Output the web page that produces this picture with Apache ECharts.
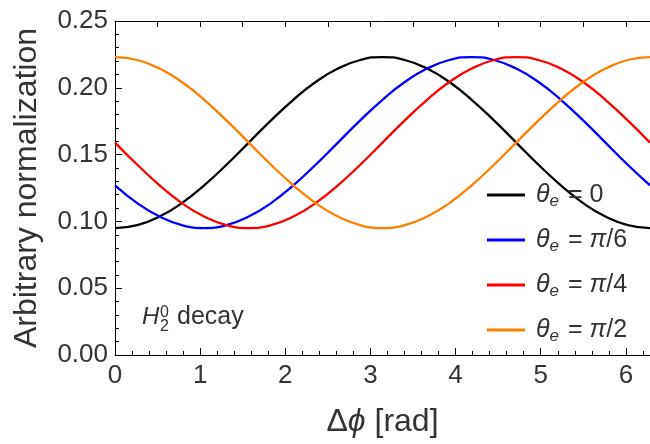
<!DOCTYPE html>
<html><head><meta charset="utf-8">
<script src="https://cdn.jsdelivr.net/npm/echarts@6/dist/echarts.min.js"></script>
<style>html,body{margin:0;padding:0;background:#fff}#c{width:650px;height:444px}</style>
</head><body><div id="c"></div><script>
// Δφ sample positions (rad)
const xValues = [0, 0.2618, 0.5236, 0.7854, 1.0472, 1.309, 1.5708, 1.8326, 2.0944, 2.3562, 2.618, 2.8798, 3.1416, 3.4034, 3.6652, 3.927, 4.1888, 4.4506, 4.7124, 4.9742, 5.236, 5.4978, 5.7596, 6.0214, 6.2832];
// values
const theta0   = [0.095, 0.0972, 0.1036, 0.1137, 0.127, 0.1424, 0.159, 0.1756, 0.191, 0.2043, 0.2144, 0.2208, 0.223, 0.2208, 0.2144, 0.2043, 0.191, 0.1756, 0.159, 0.1424, 0.127, 0.1137, 0.1036, 0.0972, 0.095];
const thetaPi6 = [0.127, 0.1137, 0.1036, 0.0972, 0.095, 0.0972, 0.1036, 0.1137, 0.127, 0.1424, 0.159, 0.1756, 0.191, 0.2043, 0.2144, 0.2208, 0.223, 0.2208, 0.2144, 0.2043, 0.191, 0.1756, 0.159, 0.1424, 0.127];
const thetaPi4 = [0.159, 0.1424, 0.127, 0.1137, 0.1036, 0.0972, 0.095, 0.0972, 0.1036, 0.1137, 0.127, 0.1424, 0.159, 0.1756, 0.191, 0.2043, 0.2144, 0.2208, 0.223, 0.2208, 0.2144, 0.2043, 0.191, 0.1756, 0.159];
const thetaPi2 = [0.223, 0.2208, 0.2144, 0.2043, 0.191, 0.1756, 0.159, 0.1424, 0.127, 0.1137, 0.1036, 0.0972, 0.095, 0.0972, 0.1036, 0.1137, 0.127, 0.1424, 0.159, 0.1756, 0.191, 0.2043, 0.2144, 0.2208, 0.223];
const xTickLabels = [0, 1, 2, 3, 4, 5, 6];
const yTickLabels = ['0.00', '0.05', '0.10', '0.15', '0.20', '0.25'];
const seriesNames = ['θe = 0', 'θe = π/6', 'θe = π/4', 'θe = π/2'];
const legendRich = ['{i|θ}{s|e}{n| = 0}', '{i|θ}{s|e}{n| = }{i|π}{n|/6}', '{i|θ}{s|e}{n| = }{i|π}{n|/4}', '{i|θ}{s|e}{n| = }{i|π}{n|/2}'];
const colors = ['#000000', '#0000ff', '#ff0000', '#ff8000'];
const allValues = [theta0, thetaPi6, thetaPi4, thetaPi2];

const FONT = '"Liberation Sans", Arial, sans-serif';
const TXT = '#333333';
const XMAX = 6.2832;

const chart = echarts.init(document.getElementById('c'), null, {renderer: 'canvas'});
const series = allValues.map((vals, k) => ({
  name: seriesNames[k],
  type: 'line',
  xAxisIndex: 0,
  yAxisIndex: 0,
  smooth: true,
  symbol: 'none',
  lineStyle: {color: colors[k], width: 2.3},
  itemStyle: {color: colors[k]},
  data: xValues.map((x, i) => [x, vals[i]])
}));

chart.setOption({
  animation: false,
  backgroundColor: '#ffffff',
  textStyle: {fontFamily: FONT},
  grid: {left: 115, right: -5, top: 21, bottom: 89},
  legend: {
    orient: 'vertical',
    left: 482, top: 175,
    itemWidth: 38, itemHeight: 3, itemGap: 15,
    icon: 'rect',
    data: seriesNames,
    formatter: name => legendRich[seriesNames.indexOf(name)],
    textStyle: {
      color: TXT, fontFamily: FONT, fontSize: 25, lineHeight: 30, padding: [0, 0, 0, 6],
      rich: {
        i: {fontStyle: 'italic', fontSize: 25, color: TXT, fontFamily: FONT},
        s: {fontStyle: 'italic', fontSize: 17, color: TXT, fontFamily: FONT, verticalAlign: 'bottom', lineHeight: 30, padding: [0, 2, 0, 0]},
        n: {fontSize: 25, color: TXT, fontFamily: FONT}
      }
    }
  },
  xAxis: [{
    type: 'value', position: 'bottom', min: 0, max: XMAX, interval: 1,
    name: '{u|Δ}{i|ϕ}{u| [rad]}', nameLocation: 'middle', nameGap: 51,
    nameTextStyle: {
      rich: {
        u: {fontSize: 32, color: TXT, fontFamily: FONT},
        i: {fontSize: 32, color: TXT, fontFamily: FONT, fontStyle: 'italic'}
      }
    },
    axisLine: {show: true, onZero: false, lineStyle: {color: '#000', width: 1}},
    axisTick: {show: true, inside: true, length: 7, lineStyle: {color: '#000'}},
    minorTick: {show: true, splitNumber: 5, length: 4, lineStyle: {color: '#000'}},
    axisLabel: {
      show: true, margin: 8, fontSize: 26, color: TXT, fontFamily: FONT, showMaxLabel: false,
      formatter: v => (xTickLabels.indexOf(v) >= 0 ? String(v) : '')
    },
    splitLine: {show: false}
  }, {
    type: 'value', position: 'top', min: 0, max: XMAX, interval: 0.5,
    axisLine: {show: true, onZero: false, lineStyle: {color: '#000', width: 1}},
    axisTick: {show: true, inside: true, length: 6, lineStyle: {color: '#000'}},
    axisLabel: {show: false},
    splitLine: {show: false}
  }],
  yAxis: [{
    type: 'value', min: 0, max: 0.25, interval: 0.05,
    name: 'Arbitrary normalization', nameLocation: 'middle', nameGap: 72, nameRotate: 90,
    nameTextStyle: {fontSize: 32, color: TXT, fontFamily: FONT},
    axisLine: {show: true, onZero: false, lineStyle: {color: '#000', width: 1}},
    axisTick: {show: true, inside: true, length: 7, lineStyle: {color: '#000'}},
    minorTick: {show: true, splitNumber: 5, length: 4, lineStyle: {color: '#000'}},
    axisLabel: {
      show: true, margin: 7, fontSize: 26, color: TXT, fontFamily: FONT,
      formatter: v => yTickLabels[Math.round(v / 0.05)]
    },
    splitLine: {show: false}
  }],
  graphic: [
    {type: 'text', left: 142, top: 305, style: {text: 'H', fontSize: 24, fontStyle: 'italic', fill: TXT, fontFamily: FONT}},
    {type: 'text', left: 160, top: 305, style: {text: '0', fontSize: 16, fill: TXT, fontFamily: FONT}},
    {type: 'text', left: 160, top: 319, style: {text: '2', fontSize: 16, fill: TXT, fontFamily: FONT}},
    {type: 'text', left: 177, top: 305, style: {text: 'decay', fontSize: 25, fill: TXT, fontFamily: FONT}}
  ],
  series: series
});
</script></body></html>
